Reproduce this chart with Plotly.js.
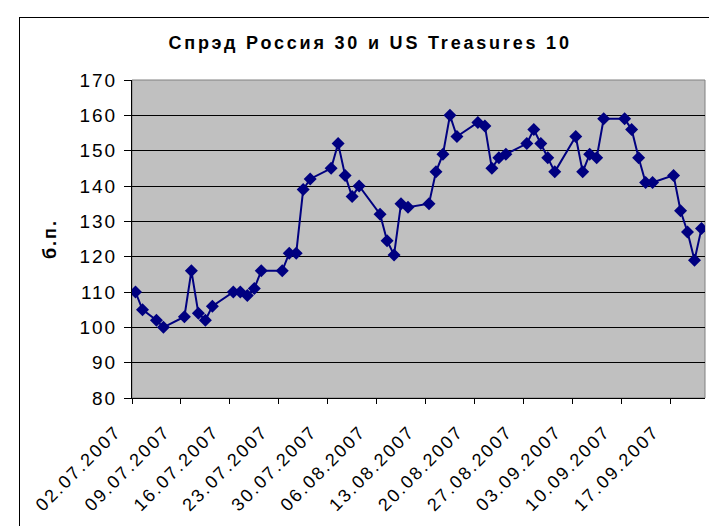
<!DOCTYPE html>
<html>
<head>
<meta charset="utf-8">
<script src="https://cdn.plot.ly/plotly-3.0.1.min.js"></script>
<style>
  html, body { margin: 0; padding: 0; background: #fff; overflow: hidden; }
  #wrap { position: relative; width: 709px; height: 526px; overflow: hidden; }
  #chart { position: absolute; left: 0; top: 0; width: 709px; height: 526px; }
  #frame { position: absolute; left: 19px; top: 17px; width: 800px; height: 600px;
           border: 1px solid #000; pointer-events: none; }
  .xtick text { letter-spacing: 2.2px; }
  .ytick text { letter-spacing: 2px; }
  .gtitle { letter-spacing: 2.8px; }
  .g-ytitle text { letter-spacing: 2px; }
</style>
</head>
<body>
<div id="wrap">
  <div id="chart"></div>
  <div id="frame"></div>
</div>
<script>
// Trading dates (dd.mm.yyyy shown on axis)
const dates = [
  '2007-07-02','2007-07-03','2007-07-05','2007-07-06',
  '2007-07-09','2007-07-10','2007-07-11','2007-07-12','2007-07-13',
  '2007-07-16','2007-07-17','2007-07-18','2007-07-19','2007-07-20',
  '2007-07-23','2007-07-24','2007-07-25','2007-07-26','2007-07-27',
  '2007-07-30','2007-07-31','2007-08-01','2007-08-02','2007-08-03',
  '2007-08-06','2007-08-07','2007-08-08','2007-08-09','2007-08-10',
  '2007-08-13','2007-08-14','2007-08-15','2007-08-16','2007-08-17',
  '2007-08-20','2007-08-21','2007-08-22','2007-08-23','2007-08-24',
  '2007-08-27','2007-08-28','2007-08-29','2007-08-30','2007-08-31',
  '2007-09-03','2007-09-04','2007-09-05','2007-09-06','2007-09-07',
  '2007-09-10','2007-09-11','2007-09-12','2007-09-13','2007-09-14',
  '2007-09-17','2007-09-18','2007-09-19','2007-09-20','2007-09-21'
];

// Spread, basis points
const spread = [
  110, 105, 102, 100,
  103, 116, 104, 102, 106,
  110, 110, 109, 111, 116,
  116, 121, 121, 139, 142,
  145, 152, 143, 137, 140,
  132, 124.5, 120.5, 135, 134,
  135, 144, 149, 160, 154,
  158, 157, 145, 148, 149,
  152, 156, 152, 148, 144,
  154, 144, 149, 148, 159,
  159, 156, 148, 141, 141,
  143, 133, 127, 119, 128
];

const titleText = 'Спрэд Россия 30 и US Treasures 10';
const yTitleText = 'б.п.';
const xRange = ['2007-07-02', '2007-09-22'];
const yRange = [80, 170];

// Excel date axis: each point sits in the middle of its day slot
const xMid = dates.map(d => d + ' 12:00');

const FONT = 'Liberation Sans, Arial, sans-serif';

const trace = {
  x: xMid,
  y: spread,
  type: 'scatter',
  mode: 'lines+markers',
  line: { color: '#000080', width: 2 },
  marker: { symbol: 'diamond', size: 10, color: '#000080', line: { width: 0 } },
  hoverinfo: 'x+y'
};

const layout = {
  width: 709,
  height: 526,
  margin: { l: 132, r: 4, t: 80, b: 128, pad: 0 },
  paper_bgcolor: 'rgba(0,0,0,0)',
  plot_bgcolor: '#C0C0C0',
  showlegend: false,
  font: { family: FONT, color: '#000' },
  title: {
    text: titleText,
    font: { family: FONT, size: 18, color: '#000', weight: 'bold' },
    xref: 'container', x: 0.522, xanchor: 'center',
    yref: 'container', y: 0.918, yanchor: 'middle'
  },
  xaxis: {
    type: 'date',
    range: xRange,
    tick0: '2007-07-02',
    dtick: 7 * 86400000,
    tickformat: '%d.%m.%Y',
    tickangle: -45,
    ticks: 'outside',
    ticklen: 5,
    tickcolor: '#000',
    tickwidth: 1,
    ticklabelshift: -16,
    ticklabelstandoff: 10,
    showline: true,
    linecolor: '#000',
    linewidth: 1,
    showgrid: false,
    zeroline: false,
    tickfont: { family: FONT, size: 18, color: '#000' },
    fixedrange: true
  },
  yaxis: {
    range: yRange,
    dtick: 10,
    tick0: 80,
    ticks: 'outside',
    ticklen: 7,
    tickcolor: '#000',
    tickwidth: 1,
    ticklabelstandoff: 3,
    showline: true,
    linecolor: '#000',
    linewidth: 1,
    showgrid: true,
    gridcolor: '#000',
    gridwidth: 1,
    zeroline: false,
    tickfont: { family: FONT, size: 19, color: '#000' },
    title: {
      text: yTitleText,
      font: { family: FONT, size: 18, color: '#000', weight: 'bold' },
      standoff: 18
    },
    fixedrange: true
  },
  shapes: [{
    type: 'rect', xref: 'paper', yref: 'paper',
    x0: 0, x1: 1, y0: 0, y1: 1,
    line: { color: '#808080', width: 1 },
    layer: 'below'
  }]
};

Plotly.newPlot('chart', [trace], layout, { displayModeBar: false, staticPlot: true });
</script>
</body>
</html>
